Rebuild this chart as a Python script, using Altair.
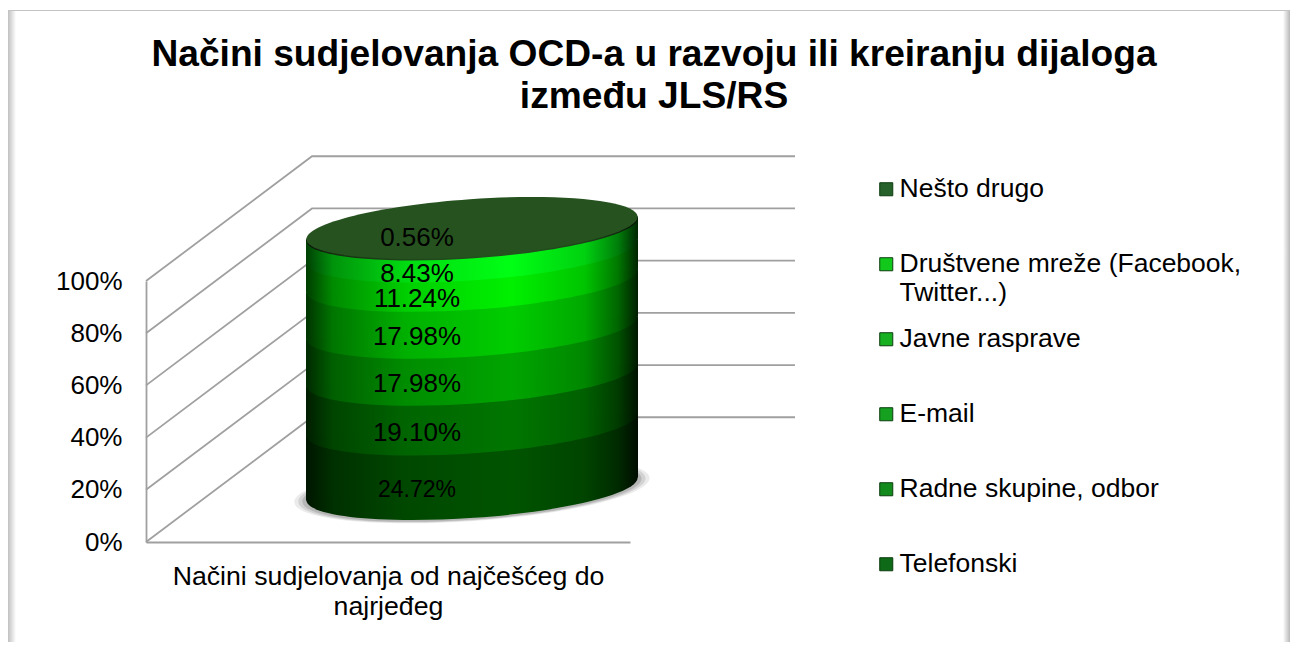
import altair as alt
import numpy as np
import pandas as pd

FONT = "Liberation Sans"
title_lines = ["Načini sudjelovanja OCD-a u razvoju ili kreiranju dijaloga", "između JLS/RS"]
x_title_lines = ["Načini sudjelovanja od najčešćeg do", "najrjeđeg"]

# bottom to top of the stack
shares = [24.72, 19.10, 17.98, 17.98, 11.24, 8.43, 0.56]
peak_rgb = [(0, 84, 0), (0, 118, 0), (0, 165, 0), (0, 205, 0), (0, 240, 0), (0, 255, 20), (38, 82, 32)]

legend_names = ["Nešto drugo", "Društvene mreže (Facebook, Twitter...)", "Javne rasprave",
                "E-mail", "Radne skupine, odbor", "Telefonski"]
legend_colors = ["#26602a", "#12c81a", "#16b020", "#16a020", "#128a1c", "#0e6a16"]
y_ticks = [0, 20, 40, 60, 80, 100]

W, H = 484, 261
PAD = {"left": 138, "top": 273, "right": 660, "bottom": 100}
LINE = "#a0a0a0"
xs = alt.Scale(domain=[0, W], range=[0, W], nice=False, zero=False)
ys = alt.Scale(domain=[0, 100], range=[H, 0], nice=False, zero=False)
x_axis = alt.Axis(
    title=x_title_lines, titleFont=FONT, titleFontSize=26.7, titleFontWeight="normal", titleColor="#000000",
    titleLineHeight=30, titlePadding=21, labels=False, ticks=False, grid=False, domainColor=LINE, domainWidth=1.8)
y_axis = alt.Axis(
    title=None, values=y_ticks, labelExpr="datum.value + '%'", labelFont=FONT, labelFontSize=26, labelColor="#000000",
    labelPadding=24, ticks=False, grid=False, domainColor=LINE, domainWidth=1.8)
X = alt.X("x:Q", scale=xs, axis=x_axis)
Y = alt.Y("y:Q", scale=ys, axis=y_axis)

# oblique depth of the 3-D box
DEPTH_X, DEPTH_Y, WALL_END = 166, 47.8, 649
CYL_L, CYL_R, CYL_C = 160, 492, 326
BASE = 20.3
TILT = 4.44  # rise of the ellipse tips, in y units
ELLIPSE = "M-0.9976,0.0698 A1,0.174 -4 1,1 0.9976,-0.0698 A1,0.174 -4 1,1 -0.9976,0.0698 Z"

def grad(rgb):
    stops = [(0, .25), (.08, .58), (.3, .86), (.62, 1), (.84, .82), (.94, .5), (1, .15)]
    return alt.Gradient(gradient="linear", x1=0, x2=1, y1=0, y2=0, stops=[
        alt.GradientStop(offset=o, color="#%02x%02x%02x" % tuple(int(c * m) for c in rgb)) for o, m in stops])

def ellipse(y, fill, grow=0, opacity=1):
    d = pd.DataFrame({"x": [CYL_C], "y": [y]})
    return alt.Chart(d).mark_point(shape=ELLIPSE, filled=True, fill=fill, size=(CYL_R - CYL_L + grow) ** 2,
                                   opacity=opacity, strokeWidth=0).encode(x=X, y=Y)

blank = alt.Data(values=[{}])
def deco(x, x2, y, y2, fill):
    return alt.Chart(blank).mark_rect(fill=fill, strokeWidth=0).encode(
        x=alt.value(x), x2=alt.value(x2), y=alt.value(y), y2=alt.value(y2))

side = lambda a, b: alt.Gradient(gradient="linear", x1=0, x2=1, y1=0, y2=0, stops=[
    alt.GradientStop(offset=0, color=a), alt.GradientStop(offset=1, color=b)])

layers = [
    deco(-138, 1144, -271, -270, "#c4c4c4"),
    deco(-138, -130, -270, 361, side("#c0c0c0", "#ffffff")),
    deco(1137, 1144, -270, 361, side("#ffffff", "#b8b8b8")),
]

# walls
rows = []
for t in y_ticks:
    rows += [dict(t=t, o=0, x=0, y=t), dict(t=t, o=1, x=DEPTH_X, y=t + DEPTH_Y), dict(t=t, o=2, x=WALL_END, y=t + DEPTH_Y)]
walls = alt.Chart(pd.DataFrame(rows)).mark_line(color=LINE, strokeWidth=1.8).encode(
    x=X, y=Y, detail="t:N", order="o:Q")
layers.append(walls)

# soft base shadow
for g, op in [(24, .14), (16, .2), (8, .28)]:
    layers.append(ellipse(BASE - .4, "#707070", g, op))

# stacked cylinder
tops = np.cumsum(shares)
bottoms = tops - np.array(shares)
for b, t, rgb in zip(bottoms, tops, peak_rgb):
    g = grad(rgb)
    layers.append(ellipse(b + BASE, g))
    seg = pd.DataFrame({"x": [CYL_L, CYL_R],
                        "y": [b + BASE - TILT, b + BASE + TILT],
                        "y2": [t + BASE - TILT, t + BASE + TILT]})
    layers.append(alt.Chart(seg).mark_area(fill=g, strokeWidth=0, opacity=1).encode(x=X, y=Y, y2="y2:Q"))
layers.append(ellipse(tops[-1] + BASE, "#26521f"))

# data labels: on the front of each band, the last one on the cap
front = [12.7] * 6 + [3.5]
lab = pd.DataFrame({
    "x": [271] * 7,
    "y": [(b + t) / 2 + BASE - f for b, t, f in zip(bottoms, tops, front)],
    "v": shares,
    "txt": ["%.2f%%" % s for s in shares],
})
layers.append(alt.Chart(lab).mark_text(font=FONT, color="#000000", baseline="middle", align="center").encode(
    x=X, y=Y, text="txt:N",
    size=alt.condition("datum.v == 24.72", alt.value(23), alt.value(26))))

# legend
leg = pd.DataFrame({"name": legend_names, "x": [0] * 6, "y": [0] * 6})
layers.append(alt.Chart(leg).mark_point(filled=True, shape="square", opacity=0).encode(
    x=X, y=Y,
    color=alt.Color("name:N", scale=alt.Scale(domain=legend_names, range=legend_colors), sort=legend_names, legend=alt.Legend(
        orient="none", legendX=727, legendY=-105, title=None, symbolType="square", symbolSize=170, symbolOpacity=1,
        symbolStrokeColor="#0d3d10", symbolStrokeWidth=1, labelFont=FONT, labelFontSize=26.5, labelColor="#000000", labelLimit=500,
        labelOffset=0, rowPadding=19, gridAlign="all",
        labelExpr="datum.label == 'Društvene mreže (Facebook, Twitter...)' ? ['Društvene mreže (Facebook,', 'Twitter...)'] : datum.label"))))

chart = alt.layer(*layers).properties(
    width=W, height=H, padding=PAD, autosize=alt.AutoSizeParams(type="none"),
    title=alt.TitleParams(text=title_lines, font=FONT, fontSize=37.15, fontWeight="bold", color="#000000",
                          anchor="middle", dx=266, dy=106, lineHeight=42, offset=0),
).configure_view(stroke=None)

chart.save("out.html", embed_options={"renderer": "svg", "actions": False})
